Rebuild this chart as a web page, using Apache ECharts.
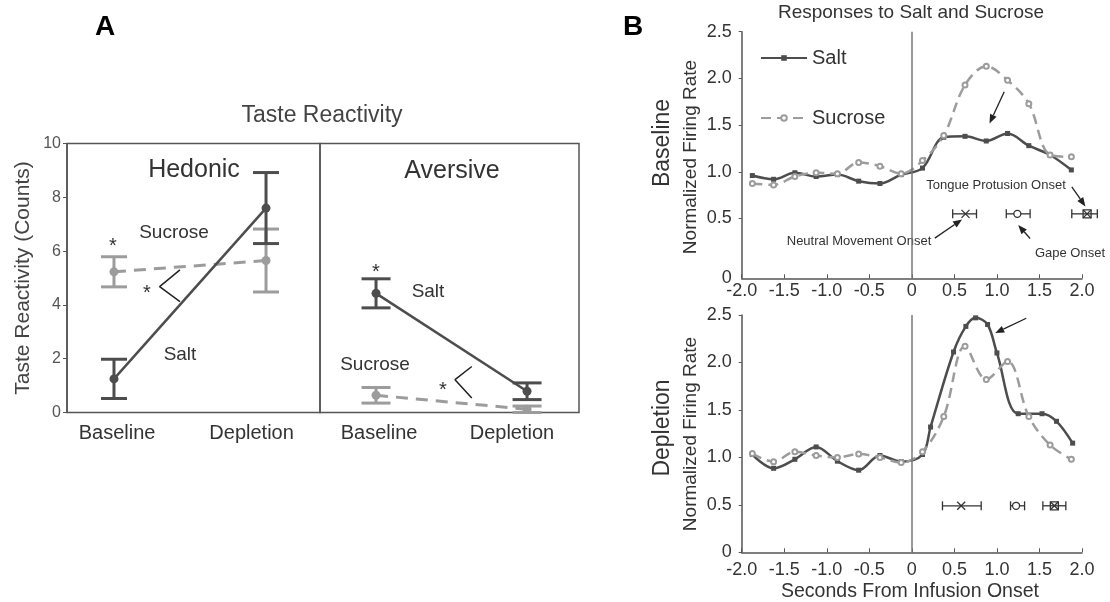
<!DOCTYPE html>
<html><head><meta charset="utf-8">
<script src="https://cdn.jsdelivr.net/npm/echarts@6/dist/echarts.min.js"></script>
<style>html,body{margin:0;padding:0;background:#fff}#c{width:1110px;height:602px}</style>
</head><body><div id="c"></div>
<script>
// ---------- Panel A data ----------
const conds = ['Baseline', 'Depletion'];
const condX = [0, 1];
const hedSaltMean = [1.25, 7.6];
const hedSaltErr  = [0.73, 1.32];
const hedSucMean  = [5.23, 5.65];
const hedSucErr   = [0.56, 1.17];
const aveSaltMean = [4.43, 0.79];
const aveSaltErr  = [0.54, 0.31];
const aveSucMean  = [0.64, 0.12];
const aveSucErr   = [0.29, 0.12];
const yTicksA = [0, 2, 4, 6, 8, 10];

// ---------- Panel B data ----------
const tGrid = [-1.875, -1.625, -1.375, -1.125, -0.875, -0.625, -0.375, -0.125,
               0.125, 0.375, 0.625, 0.875, 1.125, 1.375, 1.625, 1.875];
const baseSalt = [0.96, 0.92, 0.99, 0.95, 0.97, 0.90, 0.875, 0.97,
                  1.04, 1.37, 1.38, 1.33, 1.41, 1.28, 1.18, 1.02];
const baseSuc  = [0.875, 0.86, 0.95, 0.99, 0.98, 1.10, 1.06, 0.98,
                  1.12, 1.39, 1.93, 2.13, 1.98, 1.73, 1.18, 1.16];
const deplSaltT = [-1.875, -1.625, -1.375, -1.125, -0.875, -0.625, -0.375, -0.125,
                   0.125, 0.22, 0.49, 0.635, 0.75, 0.89, 1.0, 1.25, 1.53, 1.70, 1.89];
const deplSalt  = [1.03, 0.885, 0.98, 1.11, 0.96, 0.865, 1.02, 0.955,
                   1.03, 1.32, 2.11, 2.38, 2.47, 2.40, 2.10, 1.46, 1.46, 1.38, 1.15];
const deplSuc   = [1.04, 0.955, 1.06, 1.02, 1.0, 1.035, 1.0, 0.945,
                   1.06, 1.43, 2.17, 1.82, 2.01, 1.43, 1.13, 0.98];
// onset markers: [mean, level, low, high]
const onsetNames = ['Neutral Movement Onset', 'Gape Onset', 'Tongue Protusion Onset'];
const onsetBase = [[0.63, 0.55, 0.48, 0.76], [1.24, 0.55, 1.11, 1.39], [2.06, 0.55, 1.88, 2.18]];
const onsetDepl = [[0.58, 0.49, 0.36, 0.815], [1.225, 0.49, 1.16, 1.325], [1.675, 0.49, 1.54, 1.81]];
// annotation arrows: [x from, y from, x to, y to]
const arrowsBase = [[1.086, 1.857, 0.913, 1.518], [1.88, 0.84, 2.04, 0.63],
                    [0.27, 0.29, 0.59, 0.49], [1.39, 0.286, 1.25, 0.43]];
const arrowsDepl = [[1.345, 2.466, 0.98, 2.31]];
const yTicksTop = [-0.14, 0.5, 1, 1.5, 2, 2.5];   // bottom of the top axis is labelled "0"

const SALT = '#4d4d4d', SUC = '#9c9c9c', INK = '#333';
const chart = echarts.init(document.getElementById('c'));

const zip = (xs, ys) => xs.map((x, i) => [x, ys[i]]);
const errData = (m, e) => condX.map((x, i) => [x, m[i], m[i] - e[i], m[i] + e[i]]);

function errSeries(gi, data, color, capW) {
  return {
    type: 'custom', xAxisIndex: gi, yAxisIndex: gi, clip: false, z: 3,
    data: data,
    renderItem: (p, api) => {
      const x = api.value(0), lo = api.value(2), hi = api.value(3);
      const a = api.coord([x, lo]), b = api.coord([x, hi]);
      const st = { stroke: color, lineWidth: 3 };
      return { type: 'group', children: [
        { type: 'line', shape: { x1: a[0], y1: a[1], x2: b[0], y2: b[1] }, style: st },
        { type: 'line', shape: { x1: a[0] - capW / 2, y1: a[1], x2: a[0] + capW / 2, y2: a[1] }, style: st },
        { type: 'line', shape: { x1: b[0] - capW / 2, y1: b[1], x2: b[0] + capW / 2, y2: b[1] }, style: st }
      ]};
    }
  };
}
function meanSeries(gi, name, m, color, dashed) {
  return {
    type: 'line', name: name, xAxisIndex: gi, yAxisIndex: gi, z: 4,
    data: zip(condX, m), symbol: 'circle', symbolSize: 9,
    itemStyle: { color: color },
    lineStyle: { color: color, width: dashed ? 3 : 2.5, type: dashed ? [12, 8] : 'solid' }
  };
}
function onsetSeries(gi, data) {
  return {
    type: 'custom', xAxisIndex: gi, yAxisIndex: gi, clip: false, z: 5,
    data: data.map((d, i) => d.concat([i])),
    renderItem: (p, api) => {
      const m = api.coord([api.value(0), api.value(1)]);
      const a = api.coord([api.value(2), api.value(1)]);
      const b = api.coord([api.value(3), api.value(1)]);
      const k = api.value(4);
      const st = { stroke: '#333', lineWidth: 1.3, fill: null };
      const ch = [
        { type: 'line', shape: { x1: a[0], y1: a[1], x2: b[0], y2: b[1] }, style: st },
        { type: 'line', shape: { x1: a[0], y1: a[1] - 4.5, x2: a[0], y2: a[1] + 4.5 }, style: st },
        { type: 'line', shape: { x1: b[0], y1: b[1] - 4.5, x2: b[0], y2: b[1] + 4.5 }, style: st }
      ];
      const s = 4;
      if (k === 0 || k === 2) {
        ch.push({ type: 'line', shape: { x1: m[0] - s, y1: m[1] - s, x2: m[0] + s, y2: m[1] + s }, style: st });
        ch.push({ type: 'line', shape: { x1: m[0] - s, y1: m[1] + s, x2: m[0] + s, y2: m[1] - s }, style: st });
      }
      if (k === 1) ch.push({ type: 'circle', shape: { cx: m[0], cy: m[1], r: 3.5 }, style: { stroke: '#333', lineWidth: 1.3, fill: '#fff' } });
      if (k === 2) ch.push({ type: 'rect', shape: { x: m[0] - s, y: m[1] - s, width: 2 * s, height: 2 * s }, style: { stroke: '#333', lineWidth: 1.3, fill: 'none' } });
      return { type: 'group', children: ch };
    }
  };
}
function arrowSeries(gi, data) {
  return {
    type: 'custom', xAxisIndex: gi, yAxisIndex: gi, clip: false, z: 6, silent: true,
    data: data,
    renderItem: (p, api) => {
      const a = api.coord([api.value(0), api.value(1)]);
      const b = api.coord([api.value(2), api.value(3)]);
      const ang = Math.atan2(b[1] - a[1], b[0] - a[0]);
      const L = 9, W = 3.6;
      const bx = b[0] - L * Math.cos(ang), by = b[1] - L * Math.sin(ang);
      const px = -Math.sin(ang) * W, py = Math.cos(ang) * W;
      return { type: 'group', children: [
        { type: 'line', shape: { x1: a[0], y1: a[1], x2: bx, y2: by }, style: { stroke: '#222', lineWidth: 1.3 } },
        { type: 'polygon', shape: { points: [[b[0], b[1]], [bx + px, by + py], [bx - px, by - py]] }, style: { fill: '#222' } }
      ]};
    }
  };
}
function zeroLine(gi) {
  return {
    type: 'line', xAxisIndex: gi, yAxisIndex: gi, data: [], silent: true,
    markLine: { silent: true, symbol: ['none', 'none'], label: { show: false },
      lineStyle: { color: '#777', width: 1.5, type: 'solid' }, data: [{ xAxis: 0 }] }
  };
}
const lineB = (gi, name, xs, ys, color, dashed) => ({
  type: 'line', name: name, xAxisIndex: gi, yAxisIndex: gi, z: 4, smooth: 0.35,
  data: zip(xs, ys), symbol: dashed ? 'emptyCircle' : 'rect', symbolSize: 5,
  itemStyle: { color: color, borderWidth: 1.2 },
  lineStyle: { color: color, width: 2.5, type: dashed ? [10, 6] : 'solid' }
});

const fmt1 = v => (Math.abs(v) < 1e-9 ? '0' : v.toFixed(1));
const axisLineB = { show: true, onZero: false, lineStyle: { color: '#555', width: 1.5 } };
const axisB = (gi, margin) => ({
  type: 'value', gridIndex: gi, min: -2, max: 2, interval: 0.5,
  axisLine: axisLineB,
  axisTick: { show: true, inside: true, length: 4, lineStyle: { color: '#555' } },
  axisLabel: { fontSize: 18, color: INK, formatter: fmt1, margin: margin },
  splitLine: { show: false }
});

const T = (text, x, y, size, opts) => Object.assign({
  type: 'text', x: x, y: y, silent: true,
  style: Object.assign({ text: text, fill: INK, font: size + 'px "Liberation Sans", Arial, sans-serif',
    textAlign: 'center', textVerticalAlign: 'middle' }, (opts && opts.style) || {})
}, opts && opts.rot ? { rotation: Math.PI / 2 } : {});

const option = {
  backgroundColor: '#fff',
  animation: false,
  textStyle: { fontFamily: 'Liberation Sans, Arial, sans-serif' },
  legend: {
    data: ['Salt', 'Sucrose'], orient: 'vertical', left: 755, top: 43,
    itemWidth: 46, itemHeight: 7, itemGap: 40,
    textStyle: { fontSize: 20, color: INK, lineHeight: 20 }, selectedMode: false
  },
  grid: [
    { left: 67, top: 143.5, width: 253, height: 269, show: true, borderColor: '#555', borderWidth: 1.5 },
    { left: 320, top: 143.5, width: 259, height: 269, show: true, borderColor: '#555', borderWidth: 1.5 },
    { left: 741.7, top: 31.7, width: 340.3, height: 246.6 },
    { left: 741.7, top: 315, width: 340.3, height: 237.3 }
  ],
  xAxis: [
    { type: 'value', gridIndex: 0, min: -0.309, max: 1.355,
      axisLine: { show: false, onZero: false }, axisTick: { show: false }, splitLine: { show: false },
      axisLabel: { customValues: [0.02, 0.905], formatter: v => (v < 0.5 ? conds[0] : conds[1]), fontSize: 20, color: INK, margin: 11 } },
    { type: 'value', gridIndex: 1, min: -0.371, max: 1.344,
      axisLine: { show: false, onZero: false }, axisTick: { show: false }, splitLine: { show: false },
      axisLabel: { customValues: [0.02, 0.90], formatter: v => (v < 0.5 ? conds[0] : conds[1]), fontSize: 20, color: INK, margin: 11 } },
    axisB(2, 4),
    axisB(3, 9)
  ],
  yAxis: [
    { type: 'value', gridIndex: 0, min: 0, max: 10, interval: 2,
      axisLine: { show: true, onZero: false, lineStyle: { color: '#555', width: 1.5 } },
      axisTick: { show: true, length: 4, lineStyle: { color: '#555' }, customValues: yTicksA },
      axisLabel: { fontSize: 16, color: '#555', margin: 6, customValues: yTicksA },
      splitLine: { show: false } },
    { type: 'value', gridIndex: 1, min: 0, max: 10, show: false, axisLine: { onZero: false }, splitLine: { show: false } },
    { type: 'value', gridIndex: 2, min: -0.14, max: 2.5,
      axisLine: axisLineB,
      axisTick: { show: true, length: 3, customValues: yTicksTop.slice(1), lineStyle: { color: '#555' } },
      axisLabel: { customValues: yTicksTop, formatter: v => (v < 0 ? '0' : v.toFixed(1)), fontSize: 18, color: INK, margin: 10 },
      splitLine: { show: false } },
    { type: 'value', gridIndex: 3, min: 0, max: 2.5, interval: 0.5,
      axisLine: axisLineB,
      axisTick: { show: true, length: 3, lineStyle: { color: '#555' } },
      axisLabel: { formatter: fmt1, fontSize: 18, color: INK, margin: 10 },
      splitLine: { show: false } }
  ],
  series: [
    // Panel B top
    lineB(2, 'Salt', tGrid, baseSalt, SALT, false),
    lineB(2, 'Sucrose', tGrid, baseSuc, SUC, true),
    zeroLine(2),
    onsetSeries(2, onsetBase),
    arrowSeries(2, arrowsBase),
    // Panel B bottom
    lineB(3, 'Salt', deplSaltT, deplSalt, SALT, false),
    lineB(3, 'Sucrose', tGrid, deplSuc, SUC, true),
    zeroLine(3),
    onsetSeries(3, onsetDepl),
    arrowSeries(3, arrowsDepl),
    // Panel A hedonic
    errSeries(0, errData(hedSucMean, hedSucErr), SUC, 26),
    errSeries(0, errData(hedSaltMean, hedSaltErr), SALT, 26),
    meanSeries(0, 'A Sucrose', hedSucMean, SUC, true),
    meanSeries(0, 'A Salt', hedSaltMean, SALT, false),
    { type: 'line', xAxisIndex: 0, yAxisIndex: 0, data: [[0.434, 5.3], [0.30, 4.68], [0.434, 4.12]],
      symbol: 'none', lineStyle: { color: '#222', width: 1.5 }, silent: true },
    // Panel A aversive
    errSeries(1, errData(aveSucMean, aveSucErr), SUC, 29),
    errSeries(1, errData(aveSaltMean, aveSaltErr), SALT, 29),
    meanSeries(1, 'A Sucrose2', aveSucMean, SUC, true),
    meanSeries(1, 'A Salt2', aveSaltMean, SALT, false),
    { type: 'line', xAxisIndex: 1, yAxisIndex: 1, data: [[0.634, 1.71], [0.523, 1.22], [0.634, 0.54]],
      symbol: 'none', lineStyle: { color: '#222', width: 1.5 }, silent: true }
  ],
  graphic: [
    T('A', 105, 27, 28, { style: { font: 'bold 28px "Liberation Sans", Arial, sans-serif', fill: '#000' } }),
    T('B', 633, 27, 28, { style: { font: 'bold 28px "Liberation Sans", Arial, sans-serif', fill: '#000' } }),
    T('Taste Reactivity', 322, 116, 23, { style: { fill: '#444' } }),
    T('Taste Reactivity (Counts)', 23, 278, 21, { rot: true, style: { fill: '#444' } }),
    T('Hedonic', 194, 170, 25),
    T('Aversive', 452, 171, 25),
    T('Sucrose', 174, 233, 19),
    T('Salt', 180, 355, 19),
    T('Salt', 428, 292, 19),
    T('Sucrose', 375, 365, 19),
    T('*', 113, 246, 20),
    T('*', 147, 293, 20),
    T('*', 376, 272, 20),
    T('*', 443, 390, 20),
    T('Responses to Salt and Sucrose', 911, 13, 19),
    T('Baseline', 663, 143, 23, { rot: true }),
    T('Normalized Firing Rate', 691, 157, 19, { rot: true }),
    T('Depletion', 663, 428, 23, { rot: true }),
    T('Normalized Firing Rate', 691, 434, 19, { rot: true }),
    T(onsetNames[2], 996, 185, 13),
    T(onsetNames[0], 859, 241, 13),
    T(onsetNames[1], 1070, 253, 13),
    T('Seconds From Infusion Onset', 910, 592, 19.5)
  ]
};
chart.setOption(option);
</script></body></html>
